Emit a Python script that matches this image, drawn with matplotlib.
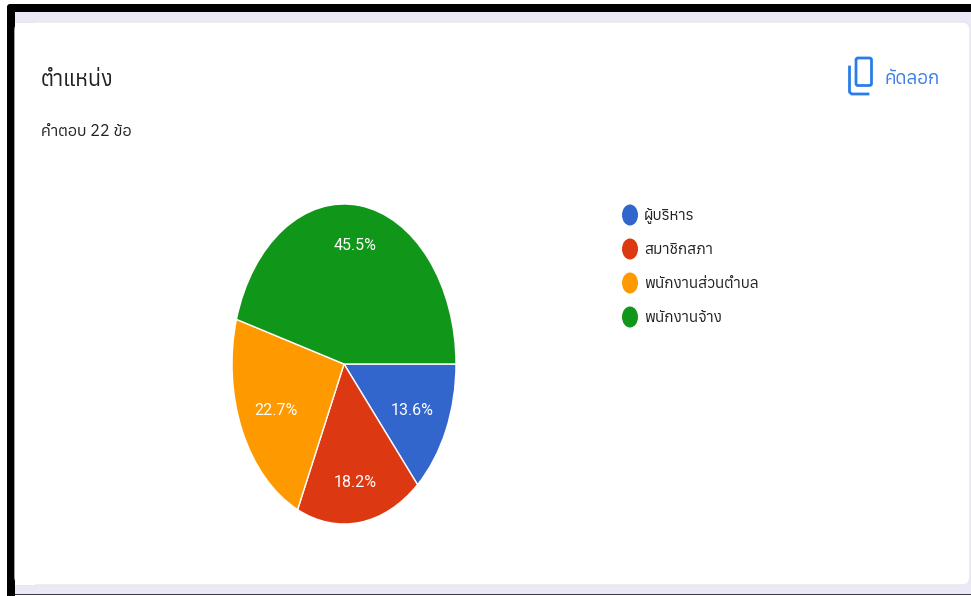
import matplotlib
matplotlib.use("Agg")
import matplotlib.pyplot as plt
from matplotlib import font_manager as fm
from matplotlib.patches import FancyBboxPatch, Rectangle, Ellipse
from matplotlib.ft2font import FT2Font

title = "ตำแหน่ง"
subtitle = "คำตอบ 22 ข้อ"
copy_label = "คัดลอก"
categories = ["ผู้บริหาร", "สมาชิกสภา", "พนักงานส่วนตำบล", "พนักงานจ้าง"]
values = [13.6, 18.2, 22.7, 45.5]
colors = ["#3366cc", "#dc3912", "#ff9900", "#109618"]

# look for anything installed that has thai glyphs
thai_fonts = []
for f in fm.fontManager.ttflist:
    try:
        if 0x0E01 in FT2Font(f.fname).get_charmap():
            thai_fonts.append(f.name)
    except Exception:
        pass
thai_fonts = sorted(set(thai_fonts))
plt.rcParams['font.family'] = thai_fonts + ['DejaVu Sans']

W, H = 971, 596
fig = plt.figure(figsize=(W / 100, H / 100), dpi=100, facecolor="white")

bg = fig.add_axes([0, 0, 1, 1])
bg.set_xlim(0, W)
bg.set_ylim(H, 0)
bg.axis("off")

# black frame, lavender page, white card
bg.add_patch(FancyBboxPatch((10, 7), W, H, boxstyle="round,pad=3,rounding_size=3", fc="black", ec="none"))
bg.add_patch(Rectangle((15, 12), W, 582, color="#ebe9f6", lw=0))
bg.add_patch(Rectangle((15, 594), W, 1, color="#3a3a4a", lw=0))
bg.add_patch(Rectangle((15, 595), W, 1, color="white", lw=0))
bg.add_patch(FancyBboxPatch((23, 30), 939, 547, boxstyle="round,pad=8,rounding_size=8",
                            fc="white", ec="#e8e8ec", lw=1))
bg.add_patch(Rectangle((15, 21.5), 20, 1, color="#e8e8ec", lw=0))
bg.add_patch(Rectangle((15, 584.5), 20, 1, color="#e8e8ec", lw=0))
bg.add_patch(Rectangle((15, 22.5), 20, 562, color="white", lw=0))

bg.text(41, 80.5, title, fontsize=15.5, color="#202124", va="center")
bg.text(41, 130.5, subtitle, fontsize=11.5, color="#202124", va="center")
bg.text(884, 78.5, copy_label, fontsize=13.5, color="#3f7fe8", va="center")

# copy icon
bg.add_patch(FancyBboxPatch((856, 58), 15.5, 27.5, boxstyle="round,pad=0,rounding_size=2",
                            fc="none", ec="#2a7de8", lw=2))
bg.plot([849.5, 849.5, 851.5, 868], [67, 92, 94, 94], color="#2a7de8", lw=2)

# legend
for i, cat in enumerate(categories):
    y = 215 + i * 34
    bg.add_patch(Ellipse((630, y), 16, 21, fc=colors[i], ec="none"))
    bg.text(644, y + 1, cat, fontsize=11, color="#202124", va="center")

# pie is stretched in the source, so no equal aspect
ax = fig.add_axes([232 / W, 1 - 524 / H, 224 / W, 320 / H])
wedges, texts, autotexts = ax.pie(values, colors=colors, counterclock=False, startangle=0,
                                  radius=1, autopct="%.1f%%", pctdistance=0.7,
                                  wedgeprops={"edgecolor": "white", "linewidth": 1},
                                  textprops={"color": "white", "fontsize": 11.5,
                                             "family": ["Roboto", "DejaVu Sans"]})
# labels sit a bit differently on the stretched pie
for t in autotexts:
    px, py = t.get_position()
    if abs(py) > 0.5:
        py = py * 1.07
    t.set_position((px * 0.96, py))
ax.set_aspect("auto")
ax.set_xlim(-1, 1)
ax.set_ylim(-1, 1)

fig.savefig("out.png", dpi=100)
